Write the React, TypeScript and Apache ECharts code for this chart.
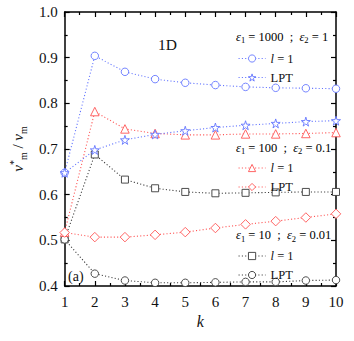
import React, { useEffect, useRef } from "react";
import * as echarts from "echarts";

const kValues = [1, 2, 3, 4, 5, 6, 7, 8, 9, 10];
const eps1000L1 = [0.648, 0.904, 0.869, 0.853, 0.845, 0.84, 0.836, 0.834, 0.833, 0.832];
const eps1000LPT = [0.648, 0.698, 0.72, 0.732, 0.74, 0.747, 0.752, 0.756, 0.76, 0.762];
const eps100L1 = [0.518, 0.782, 0.744, 0.734, 0.731, 0.731, 0.733, 0.733, 0.734, 0.736];
const eps100LPT = [0.517, 0.507, 0.507, 0.512, 0.518, 0.527, 0.535, 0.542, 0.55, 0.558];
const eps10L1 = [0.502, 0.688, 0.633, 0.614, 0.606, 0.603, 0.604, 0.605, 0.606, 0.606];
const eps10LPT = [0.502, 0.427, 0.412, 0.407, 0.407, 0.408, 0.409, 0.409, 0.412, 0.413];

const groupHeaders = [
  { e1: "1000", e2: "1" },
  { e1: "100", e2: "0.1" },
  { e1: "10", e2: "0.01" },
];

const BLUE = "rgb(100,118,255)";
const RED = "rgb(255,85,85)";
const BLACK = "#3a3a3a";
const FONT = "'Liberation Serif', 'DejaVu Serif', serif";
const STAR = "path://M50,0 L61,35 L98,35 L68,57 L79,91 L50,70 L21,91 L32,57 L2,35 L39,35 Z";

const displayNames: Record<string, string> = {
  a1: "{i|l} = 1",
  a2: "LPT",
  b1: "{i|l} = 1",
  b2: "LPT",
  c1: "{i|l} = 1",
  c2: "LPT",
};
const seriesColors: Record<string, string> = {
  a1: BLUE,
  a2: BLUE,
  b1: RED,
  b2: RED,
  c1: BLACK,
  c2: BLACK,
};

function makeSeries(id: string, values: number[], symbol: string, size: number, z: number) {
  const color = seriesColors[id];
  return {
    type: "line",
    name: id,
    data: kValues.map((k, i) => [k, values[i]]),
    symbol,
    symbolSize: size,
    showSymbol: true,
    z,
    lineStyle: { color, width: 1.1, type: [1.1, 2.2] },
    itemStyle: { color: "#fff", borderColor: color, borderWidth: 0.9 },
    emphasis: { disabled: true },
  };
}

export default function App() {
  const ref = useRef<HTMLDivElement>(null);
  useEffect(() => {
    if (!ref.current) return;
    const chart = echarts.init(ref.current, undefined, { renderer: "svg" });
    const legendText = {
      fontFamily: FONT,
      fontSize: 12.5,
      color: "#111",
      rich: { i: { fontFamily: FONT, fontSize: 12.5, fontStyle: "italic", color: "#111" } },
    };
    const makeLegend = (names: string[], top: number) => ({
      data: names.map((n) => ({
        name: n,
        itemStyle: { color: "#fff", borderColor: seriesColors[n], borderWidth: 0.9 },
        lineStyle: { color: seriesColors[n], width: 1.1, type: [1.1, 2.2] },
      })),
      orient: "vertical",
      left: 238,
      top,
      padding: 0,
      itemWidth: 27,
      itemHeight: 9,
      itemGap: 6,
      selectedMode: false,
      formatter: (n: string) => displayNames[n],
      textStyle: legendText,
    });
    const headerRich = {
      e: { fontFamily: FONT, fontSize: 12.5, fontStyle: "italic", color: "#111", lineHeight: 16, verticalAlign: "middle" },
      s: { fontFamily: FONT, fontSize: 8.5, color: "#111", lineHeight: 16, verticalAlign: "bottom" },
      t: { fontFamily: FONT, fontSize: 12.5, color: "#111", lineHeight: 16, verticalAlign: "middle" },
    };
    const headerY = [38, 149, 236.5];
    const axisCommon = {
      axisLine: { show: true, onZero: false, lineStyle: { color: "#000", width: 1.5 } },
      axisTick: { show: true, inside: true, length: 5, lineStyle: { color: "#000", width: 1.2 } },
      minorTick: { show: true, splitNumber: 2, length: 3, lineStyle: { color: "#000", width: 1.2 } },
      splitLine: { show: false },
    };
    chart.setOption({
      animation: false,
      backgroundColor: "#fff",
      grid: { left: 61, right: 18, top: 12, bottom: 55 },
      xAxis: [
        {
          type: "value",
          min: 1,
          max: 10,
          interval: 1,
          position: "bottom",
          name: "k",
          nameLocation: "middle",
          nameGap: 24,
          nameTextStyle: { fontFamily: FONT, fontSize: 16, fontStyle: "italic", color: "#111" },
          axisLabel: { fontFamily: FONT, fontSize: 15, color: "#111", margin: 8 },
          ...axisCommon,
        },
        {
          type: "value",
          min: 1,
          max: 10,
          interval: 1,
          position: "top",
          axisLabel: { show: false },
          ...axisCommon,
        },
      ],
      yAxis: [
        {
          type: "value",
          min: 0.4,
          max: 1.0,
          interval: 0.1,
          position: "left",
          name: "{i|v}{sup|*}{sub|m}{t| / }{i|v}{sub|m}",
          nameLocation: "middle",
          nameGap: 31,
          nameRotate: 90,
          nameTextStyle: {
            rich: {
              i: { fontFamily: FONT, fontSize: 15, fontStyle: "italic", color: "#111", lineHeight: 20, verticalAlign: "middle" },
              t: { fontFamily: FONT, fontSize: 15, color: "#111", lineHeight: 20, verticalAlign: "middle" },
              sub: { fontFamily: FONT, fontSize: 10, color: "#111", lineHeight: 20, verticalAlign: "bottom" },
              sup: { fontFamily: FONT, fontSize: 10, color: "#111", lineHeight: 20, verticalAlign: "top" },
            },
          },
          axisLabel: {
            fontFamily: FONT,
            fontSize: 15,
            color: "#111",
            margin: 7,
            formatter: (v: number) => v.toFixed(1),
          },
          ...axisCommon,
        },
        {
          type: "value",
          min: 0.4,
          max: 1.0,
          interval: 0.1,
          position: "right",
          axisLabel: { show: false },
          ...axisCommon,
        },
      ],
      legend: [makeLegend(["a1", "a2"], 52), makeLegend(["b1", "b2"], 161.5), makeLegend(["c1", "c2"], 249.5)],
      graphic: [
        ...groupHeaders.map((h, i) => ({
          type: "text",
          left: 236,
          top: headerY[i] - 8,
          silent: true,
          style: {
            text: `{e|ε}{s|1}{t| = ${h.e1}  ;  }{e|ε}{s|2}{t| = ${h.e2}}`,
            rich: headerRich,
          },
        })),
        {
          type: "text",
          left: 158,
          top: 36,
          silent: true,
          style: { text: "1D", fontFamily: FONT, fontSize: 15.5, fill: "#111" },
        },
        {
          type: "text",
          left: 68,
          top: 269,
          silent: true,
          style: { text: "(a)", fontFamily: FONT, fontSize: 14, fill: "#111" },
        },
      ],
      series: [
        makeSeries("a1", eps1000L1, "circle", 7.5, 3),
        makeSeries("a2", eps1000LPT, STAR, 9, 3),
        makeSeries("b1", eps100L1, "triangle", 8.5, 2),
        makeSeries("b2", eps100LPT, "diamond", 9.5, 2),
        makeSeries("c1", eps10L1, "rect", 7, 1),
        makeSeries("c2", eps10LPT, "circle", 7.5, 1),
      ],
    });
    return () => chart.dispose();
  }, []);
  return (
    <div
      ref={ref}
      style={{ position: "fixed", left: 0, top: 0, width: 354, height: 341 }}
    />
  );
}
